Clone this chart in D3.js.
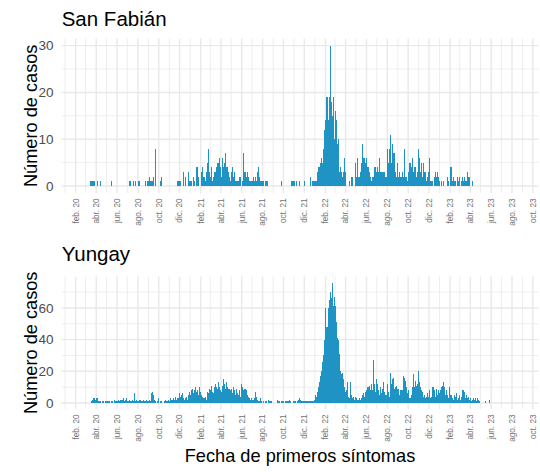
<!DOCTYPE html>
<html>
<head>
<meta charset="utf-8">
<script src="https://cdn.jsdelivr.net/npm/d3@7"></script>
<style>
  body { margin: 0; background: #ffffff; }
  text { font-family: "Liberation Sans", Arial, sans-serif; }
</style>
</head>
<body>
<svg id="chart" width="540" height="472"></svg>
<script>
// Casos por fecha de primeros síntomas; cada valor cubre 3 días desde inicioSerie.
const inicioSerie = "2020-03-01";
const diasPorValor = 3;

const casosSanFabian = [
  0,0,0,0,1,1,1,1,1,0,0,1,0,0,1,0,0,0,0,0,
  0,0,0,0,0,1,0,0,0,0,0,0,0,0,0,0,0,0,0,0,0,0,1,1,0,0,1,0,1,0,0,1,1,0,0,0,0,0,1,0,
  1,1,2,1,1,1,2,0,8,0,0,0,0,1,2,0,0,0,0,0,0,0,0,0,0,0,0,0,0,1,1,1,1,0,0,3,0,2,0,0,
  3,1,1,1,0,2,1,0,4,4,2,0,0,3,4,2,1,3,5,8,3,2,4,1,2,3,3,4,5,5,6,4,2,6,4,5,7,4,4,3,
  2,1,3,4,2,3,1,1,1,1,2,2,0,1,7,3,2,3,2,1,1,1,1,2,1,2,1,3,4,2,1,1,1,1,0,1,1,1,0,0,
  0,0,0,0,0,0,0,0,0,0,0,1,0,0,0,0,0,0,0,0,1,1,1,1,0,1,0,0,1,0,0,0,0,1,0,0,0,0,0,2,
  0,1,1,1,1,1,3,4,4,5,6,5,8,12,14,19,14,19,30,18,15,19,10,16,14,9,10,3,4,3,2,3,6,3,0,0,0,1,0,2,
  2,0,0,5,2,6,2,2,3,5,9,6,6,5,6,4,3,2,1,2,2,4,4,3,4,3,6,3,3,3,3,3,2,2,8,5,8,11,5,9,
  7,7,3,2,5,2,3,2,2,3,2,8,2,2,1,3,5,4,6,3,4,4,2,3,8,6,3,5,2,5,3,3,1,2,3,6,1,1,1,0,
  2,3,2,3,2,1,0,1,0,1,0,0,0,2,1,0,4,1,2,1,1,0,2,1,2,0,1,2,1,2,1,1,3,2,2,0,0,1,0,0
];

const casosYungay = [
  0,0,0,0,0,1,2,3,3,2,3,3,1,1,1,0,1,1,0,1,
  1,1,1,1,0,1,1,0,2,1,1,1,2,1,2,2,3,1,2,3,1,1,2,1,1,2,1,6,1,2,1,1,2,2,1,1,2,1,1,2,
  1,1,2,1,6,7,5,2,1,0,1,3,0,1,1,0,1,2,1,1,2,1,3,2,2,3,2,4,2,3,3,6,4,5,6,3,2,3,4,2,
  5,7,5,8,9,6,8,10,7,8,5,10,7,5,4,3,4,2,7,6,9,8,11,7,6,10,12,10,9,13,10,8,7,11,15,12,9,13,10,9,
  9,8,9,6,10,8,5,9,6,5,8,4,12,10,8,9,8,5,4,3,2,3,2,2,3,7,4,2,1,1,3,1,0,1,0,1,1,0,2,1,
  1,1,0,0,0,0,0,2,1,1,0,1,1,1,0,1,1,1,2,1,0,0,1,1,1,0,1,2,3,2,1,1,1,1,1,1,1,1,1,1,
  1,1,1,2,5,4,7,10,13,17,20,26,30,40,60,48,60,65,70,66,76,61,67,61,51,41,40,31,20,18,19,15,10,7,8,13,4,3,13,5,
  3,4,2,4,3,2,2,3,2,3,5,6,4,7,8,10,11,8,12,8,27,12,7,15,12,8,5,10,6,9,13,7,5,5,12,7,4,19,12,15,
  16,9,10,11,9,9,5,8,8,8,17,16,14,10,6,8,3,5,10,18,10,14,11,12,20,13,10,8,7,4,5,3,4,6,4,8,3,4,10,10,
  8,4,9,5,8,6,8,10,11,13,10,5,8,5,3,10,5,3,2,5,4,6,2,3,5,2,4,8,8,7,3,5,3,4,2,3,1,2,3,2,
  3,1,3,2,1,0,0,0,0,0,1,0,0,0,2
];

const comunas = ["San Fabián", "Yungay"];
const yTicksSanFabian = [0, 10, 20, 30];
const yTicksYungay = [0, 20, 40, 60];
const mesesAbrev = ["ene.", "feb.", "mar.", "abr.", "may.", "jun.", "jul.", "ago.", "sept.", "oct.", "nov.", "dic."];
const fechaEjeInicio = "2019-12-22";
const fechaEjeFin = "2023-10-17";
const tituloEjeY = "Número de casos";
const tituloEjeX = "Fecha de primeros síntomas";

const barColor = "#1f93c3";
const gridColor = "#e9e9e9";

const svg = d3.select("#chart");
const parse = d3.utcParse("%Y-%m-%d");

const left = 61.7, right = 538.3;
const x = d3.scaleUtc()
  .domain([parse(fechaEjeInicio), parse(fechaEjeFin)])
  .range([left, right]);

const panels = [
  { name: comunas[0], values: casosSanFabian, ticks: yTicksSanFabian, minor: [5, 15, 25],
    top: 38.6, bottom: 193, titleY: 26, labelTop: 198.5 },
  { name: comunas[1], values: casosYungay, ticks: yTicksYungay, minor: [10, 30, 50, 70],
    top: 276.6, bottom: 409, titleY: 261, labelTop: 414.5 }
];

const start = parse(inicioSerie);
const months = d3.utcMonth.range(parse("2020-01-01"), parse("2023-11-01"));

panels.forEach(p => {
  const maxV = d3.max(p.values);
  const pad = maxV * 0.05;
  const y = d3.scaleLinear().domain([-pad, maxV + pad]).range([p.bottom, p.top]);
  const g = svg.append("g");

  // grid: minor lines first, then major
  g.selectAll("line.hminor").data(p.minor).join("line")
    .attr("x1", left).attr("x2", right)
    .attr("y1", d => y(d)).attr("y2", d => y(d))
    .attr("stroke", gridColor).attr("stroke-width", 0.75);
  g.selectAll("line.vgrid").data(months).join("line")
    .attr("x1", d => x(d)).attr("x2", d => x(d))
    .attr("y1", p.top).attr("y2", p.bottom)
    .attr("stroke", gridColor)
    .attr("stroke-width", d => d.getUTCMonth() % 2 === 1 ? 1.45 : 0.8);
  g.selectAll("line.hmajor").data(p.ticks).join("line")
    .attr("x1", left).attr("x2", right)
    .attr("y1", d => y(d)).attr("y2", d => y(d))
    .attr("stroke", gridColor).attr("stroke-width", 1.45);

  // bars
  const bars = p.values.map((v, i) => ({
    d0: d3.utcDay.offset(start, i * diasPorValor),
    d1: d3.utcDay.offset(start, (i + 1) * diasPorValor),
    v
  })).filter(b => b.v > 0);
  g.selectAll("rect.bar").data(bars).join("rect")
    .attr("x", b => x(b.d0))
    .attr("width", b => Math.max(1, x(b.d1) - x(b.d0)))
    .attr("y", b => y(b.v))
    .attr("height", b => y(0) - y(b.v))
    .attr("fill", barColor)
    .attr("shape-rendering", "crispEdges");

  // y tick labels
  g.selectAll("text.ytick").data(p.ticks).join("text")
    .attr("x", 53.5).attr("y", d => y(d))
    .attr("dy", "0.36em")
    .attr("text-anchor", "end")
    .attr("font-size", 13.5)
    .attr("fill", "#4d4d4d")
    .text(d => d);

  // x tick labels (every two months), rotated
  const labelled = months.filter(d => d.getUTCMonth() % 2 === 1);
  g.selectAll("text.xtick").data(labelled).join("text")
    .attr("transform", d => `translate(${x(d)},${p.labelTop}) rotate(-90)`)
    .attr("dy", "0.35em")
    .attr("text-anchor", "end")
    .attr("font-size", 8.2)
    .attr("fill", "#707070")
    .text(d => `${mesesAbrev[d.getUTCMonth()]} ${String(d.getUTCFullYear()).slice(2)}`);

  // panel title
  g.append("text")
    .attr("x", left).attr("y", p.titleY)
    .attr("font-size", 20.5)
    .attr("fill", "#000")
    .text(p.name);

  // y axis title
  g.append("text")
    .attr("transform", `translate(36.5,${(p.top + p.bottom) / 2}) rotate(-90)`)
    .attr("text-anchor", "middle")
    .attr("font-size", 18.2)
    .attr("fill", "#000")
    .text(tituloEjeY);
});

svg.append("text")
  .attr("x", (left + right) / 2).attr("y", 462)
  .attr("text-anchor", "middle")
  .attr("font-size", 18.2)
  .attr("fill", "#000")
  .text(tituloEjeX);
</script>
</body>
</html>
